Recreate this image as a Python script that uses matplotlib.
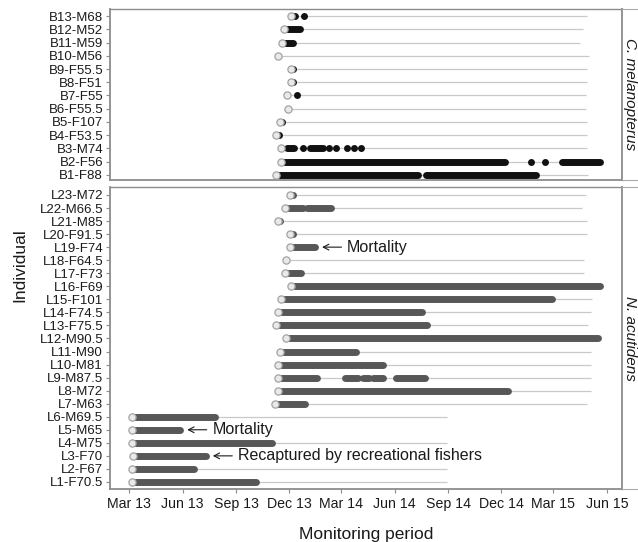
import matplotlib
matplotlib.use("Agg")
import matplotlib.pyplot as plt
import pandas as pd

plt.rcParams['font.family'] = ['Liberation Sans', 'DejaVu Sans']

# ==========================================
# C. MELANOPTERUS (top panel), listed bottom to top
# ==========================================
top_ids = ["B1-F88", "B2-F56", "B3-M74", "B4-F53.5", "B5-F107", "B6-F55.5", "B7-F55",
           "B8-F51", "B9-F55.5", "B10-M56", "B11-M59", "B12-M52", "B13-M68"]
top_release = ["2013-11-09", "2013-11-17", "2013-11-17", "2013-11-09", "2013-11-16", "2013-11-30",
               "2013-11-28", "2013-12-04", "2013-12-04", "2013-11-12", "2013-11-19", "2013-11-22",
               "2013-12-04"]
top_detect = [
    [("2013-11-14", "2014-07-11"), ("2014-07-24", "2015-01-30")],
    [("2013-11-22", "2014-12-07"), ("2015-01-22",), ("2015-02-14",), ("2015-03-15", "2015-05-20")],
    [("2013-11-28", "2013-12-10"), ("2013-12-25",), ("2014-01-06", "2014-01-28"), ("2014-02-08",),
     ("2014-02-20",), ("2014-03-10",), ("2014-03-23",), ("2014-04-04",)],
    [("2013-11-14",)],
    [("2013-11-19",)],
    [],
    [("2013-12-15",)],
    [("2013-12-08",)],
    [("2013-12-08",)],
    [],
    [("2013-11-24", "2013-12-08")],
    [("2013-11-27", "2013-12-20")],
    [("2013-12-09", "2013-12-12"), ("2013-12-27",)],
]
top_tag_end = ["2015-04-30", "2015-05-20", "2015-04-28", "2015-04-28", "2015-04-28", "2015-04-26",
               "2015-04-26", "2015-04-28", "2015-04-28", "2015-05-02", "2015-04-16", "2015-04-21",
               "2015-04-28"]

# ==========================================
# N. ACUTIDENS (bottom panel), listed bottom to top
# ==========================================
bot_ids = ["L1-F70.5", "L2-F67", "L3-F70", "L4-M75", "L5-M65", "L6-M69.5", "L7-M63", "L8-M72",
           "L9-M87.5", "L10-M81", "L11-M90", "L12-M90.5", "L13-F75.5", "L14-F74.5", "L15-F101",
           "L16-F69", "L17-F73", "L18-F64.5", "L19-F74", "L20-F91.5", "L21-M85", "L22-M66.5",
           "L23-M72"]
bot_release = ["2013-03-06", "2013-03-06", "2013-03-08", "2013-03-06", "2013-03-06", "2013-03-06",
               "2013-11-07", "2013-11-12", "2013-11-12", "2013-11-12", "2013-11-16", "2013-11-26",
               "2013-11-09", "2013-11-12", "2013-11-17", "2013-12-04", "2013-11-24", "2013-11-26",
               "2013-12-03", "2013-12-03", "2013-11-12", "2013-11-24", "2013-12-03"]
bot_detect = [
    [("2013-03-11", "2013-10-06")],
    [("2013-03-11", "2013-06-20")],
    [("2013-03-13", "2013-07-11")],
    [("2013-03-11", "2013-11-01")],
    [("2013-03-11", "2013-05-28")],
    [("2013-03-11", "2013-07-27")],
    [("2013-11-12", "2013-12-28")],
    [("2013-11-17", "2014-12-13")],
    [("2013-11-17", "2014-01-18"), ("2014-03-08", "2014-03-29"), ("2014-04-08", "2014-04-18"),
     ("2014-04-25", "2014-05-12"), ("2014-06-03", "2014-07-23")],
    [("2013-11-17", "2014-05-12")],
    [("2013-11-21", "2014-03-27")],
    [("2013-12-01", "2015-05-17")],
    [("2013-11-14", "2014-07-27")],
    [("2013-11-17", "2014-07-18")],
    [("2013-11-22", "2015-02-27")],
    [("2013-12-10", "2015-05-20")],
    [("2013-11-29", "2013-12-21")],
    [],
    [("2013-12-08", "2014-01-15")],
    [("2013-12-08",)],
    [("2013-11-16",)],
    [("2013-11-29", "2013-12-25"), ("2014-01-01", "2014-02-12")],
    [("2013-12-08",)],
]
bot_tag_end = ["2014-08-30", "2014-08-30", None, "2014-08-30", None, "2014-08-30",
               "2015-04-28", "2015-05-04", "2015-05-05", "2015-05-05", "2015-05-05", "2015-05-17",
               "2015-04-30", "2015-05-04", "2015-05-07", "2015-05-20", "2015-04-23", "2015-04-23",
               None, "2015-04-28", "2015-04-28", "2015-04-19", "2015-04-26"]

# fate notes written next to the last detection
notes = {"L19-F74": "Mortality", "L5-M65": "Mortality", "L3-F70": "Recaptured by recreational fishers"}

tick_dates = pd.date_range("2013-03-01", "2015-06-01", freq="3MS")
x_range = ("2013-01-27", "2015-06-27")

GREY_EDGE = '#8c8c8c'


def draw_panel(ax, ids, release, detect, tag_end, color):
    for i, name in enumerate(ids):
        y = i + 1
        r = pd.Timestamp(release[i])
        if tag_end[i] is not None:
            ax.plot([r, pd.Timestamp(tag_end[i])], [y, y], color='#c9c9c9', lw=0.9,
                    solid_capstyle='butt', zorder=1)
        for seg in detect[i]:
            s, e = pd.Timestamp(seg[0]), pd.Timestamp(seg[-1])
            if s == e:
                ax.plot([s], [y], 'o', ms=5.0, color=color, mec='none', zorder=2)
            else:
                ax.plot([s, e], [y, y], color=color, lw=5.0, solid_capstyle='round', zorder=2)
        ax.plot([r], [y], 'o', ms=5.2, mfc='#e9e9e9', mec='#a3a3a3', mew=0.9, zorder=3)
        if name in notes:
            last = pd.Timestamp(detect[i][-1][-1])
            ax.annotate(notes[name], xy=(last, y), xytext=(23, 0), textcoords='offset points',
                        ha='left', va='center', fontsize=11.5, color='#1a1a1a',
                        arrowprops=dict(arrowstyle='->,head_length=0.35,head_width=0.18',
                                        color='#1a1a1a', lw=0.8, shrinkA=2, shrinkB=5))

    ax.set_yticks(range(1, len(ids) + 1))
    ax.set_yticklabels(ids)
    ax.set_xlim(pd.Timestamp(x_range[0]), pd.Timestamp(x_range[1]))
    for sp in ax.spines.values():
        sp.set_color(GREY_EDGE)
        sp.set_linewidth(1.0)
    ax.spines['left'].set_linewidth(1.3)
    ax.spines['bottom'].set_linewidth(1.3)
    ax.tick_params(axis='y', direction='out', length=3, width=0.8, color=GREY_EDGE,
                   labelsize=9.5, labelcolor='#1a1a1a', pad=2)


def add_strip(fig, rect, label):
    s = fig.add_axes(rect)
    s.set_xticks([])
    s.set_yticks([])
    s.spines['right'].set_visible(False)
    for k in ('top', 'bottom'):
        s.spines[k].set_color('#aaaaaa')
    s.spines['left'].set_color(GREY_EDGE)
    s.spines['left'].set_linewidth(1.3)
    s.text(0.5, 0.5, label, rotation=-90, style='italic', fontsize=11, color='#1a1a1a',
           ha='center', va='center', transform=s.transAxes)


fig = plt.figure(figsize=(6.38, 5.42), dpi=100)
W, H = 638.0, 542.0
left, right = 110 / W, 622 / W

ax_top = fig.add_axes([left, 1 - 180 / H, right - left, 171 / H])
ax_bot = fig.add_axes([left, 1 - 489 / H, right - left, 302 / H])

draw_panel(ax_top, top_ids, top_release, top_detect, top_tag_end, '#111111')
draw_panel(ax_bot, bot_ids, bot_release, bot_detect, bot_tag_end, '#575757')

ax_top.set_ylim(0.62, len(top_ids) + 0.53)
ax_bot.set_ylim(0.46, len(bot_ids) + 0.61)
ax_top.tick_params(axis='x', bottom=False, labelbottom=False)

ax_bot.set_xticks(tick_dates)
ax_bot.set_xticklabels([d.strftime('%b %y') for d in tick_dates])
ax_bot.tick_params(axis='x', direction='out', length=3, width=0.8, color=GREY_EDGE,
                   labelsize=10.2, labelcolor='#1a1a1a', pad=3)

strip_w = 16 / W
add_strip(fig, [right, 1 - 180 / H, strip_w, 171 / H], 'C. melanopterus')
add_strip(fig, [right, 1 - 489 / H, strip_w, 302 / H], 'N. acutidens')

fig.text(366 / W, 1 - 535 / H, 'Monitoring period', ha='center', va='center',
         fontsize=12.5, color='#1a1a1a')
fig.text(20 / W, 1 - 265 / H, 'Individual', ha='center', va='center', rotation=90,
         fontsize=12.5, color='#1a1a1a')

fig.savefig('out.png', dpi=100)
